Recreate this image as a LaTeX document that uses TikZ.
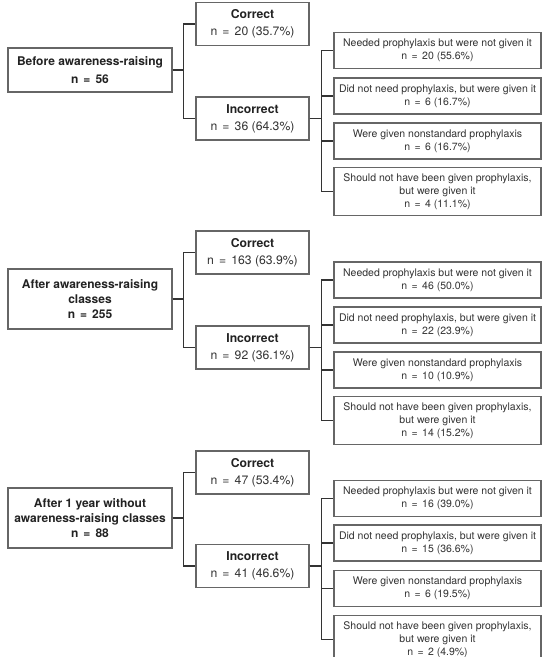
\documentclass[tikz,border=0pt]{standalone}
\usepackage{fontspec}
\setmainfont{TeX Gyre Heros}
\definecolor{boxline}{HTML}{666666}
\definecolor{conn}{HTML}{333333}
\definecolor{txt}{HTML}{333333}
\definecolor{txtb}{HTML}{222222}
\newcommand{\myeq}{\hspace{0.42em}=\hspace{0.42em}}
\begin{document}
\begin{tikzpicture}[x=1pt,y=-1pt,
  box/.style={draw=boxline, line width=1.1pt, rectangle, inner sep=0pt, align=center, text=txt},
  lbox/.style={box, minimum width=164pt, text=txtb, font=\fontsize{12}{15}\selectfont\bfseries},
  mbox/.style={box, minimum width=113pt, minimum height=43pt, font=\fontsize{12.2}{17}\selectfont},
  rbox/.style={box, minimum width=207pt, minimum height=36pt, font=\fontsize{10.5}{13.3}\selectfont},
  rboxd/.style={rbox, minimum height=48pt},
  conn/.style={draw=conn, line width=1.6pt}
]
\useasboundingbox (0,0) rectangle (547,657);
\clip (0,0) rectangle (547,657);
\fill[white] (0,0) rectangle (547,657);

% ---------- Section 1 ----------
\node[lbox, minimum height=44pt, font=\fontsize{12}{18}\selectfont\bfseries] (L1) at (90,70) {Before awareness-raising\\n\myeq 56};
\node[mbox] (C1) at (252.5,24) {\textbf{\textcolor{txtb}{Correct}}\\n\myeq 20 (35.7\%)};
\node[mbox] (I1) at (252.5,118.5) {\textbf{\textcolor{txtb}{Incorrect}}\\n\myeq 36 (64.3\%)};
\node[rbox] (R1a) at (437.5,50.5) {Needed prophylaxis but were not given it\\n\myeq 20 (55.6\%)};
\node[rbox] (R1b) at (437.5,96) {Did not need prophylaxis, but were given it\\n\myeq 6 (16.7\%)};
\node[rbox] (R1c) at (437.5,141) {Were given nonstandard prophylaxis\\n\myeq 6 (16.7\%)};
\node[rboxd] (R1d) at (437.5,191.5) {Should not have been given prophylaxis,\\but were given it\\n\myeq 4 (11.1\%)};
\draw[conn] (L1.east) -- ++(11,0) |- (C1.west);
\draw[conn] (L1.east) -- ++(11,0) |- (I1.west);
\foreach \r in {R1a,R1b,R1c,R1d}{\draw[conn] (I1.east) -- ++(12,0) |- (\r.west);}

% ---------- Section 2 ----------
\node[lbox, minimum height=60pt] (L2) at (90,299) {After awareness-raising\\classes\\n\myeq 255};
\node[mbox] (C2) at (252.5,252.5) {\textbf{\textcolor{txtb}{Correct}}\\n\myeq 163 (63.9\%)};
\node[mbox] (I2) at (252.5,347.5) {\textbf{\textcolor{txtb}{Incorrect}}\\n\myeq 92 (36.1\%)};
\node[rbox] (R2a) at (437.5,280) {Needed prophylaxis but were not given it\\n\myeq 46 (50.0\%)};
\node[rbox] (R2b) at (437.5,325) {Did not need prophylaxis, but were given it\\n\myeq 22 (23.9\%)};
\node[rbox] (R2c) at (437.5,370) {Were given nonstandard prophylaxis\\n\myeq 10 (10.9\%)};
\node[rboxd] (R2d) at (437.5,420.5) {Should not have been given prophylaxis,\\but were given it\\n\myeq 14 (15.2\%)};
\draw[conn] (L2.east) -- ++(11,0) |- (C2.west);
\draw[conn] (L2.east) -- ++(11,0) |- (I2.west);
\foreach \r in {R2a,R2b,R2c,R2d}{\draw[conn] (I2.east) -- ++(12,0) |- (\r.west);}

% ---------- Section 3 ----------
\node[lbox, minimum height=60pt] (L3) at (90,518) {After 1 year without\\awareness-raising classes\\n\myeq 88};
\node[mbox] (C3) at (252.5,472.5) {\textbf{\textcolor{txtb}{Correct}}\\n\myeq 47 (53.4\%)};
\node[mbox] (I3) at (252.5,566) {\textbf{\textcolor{txtb}{Incorrect}}\\n\myeq 41 (46.6\%)};
\node[rbox] (R3a) at (437.5,498.5) {Needed prophylaxis but were not given it\\n\myeq 16 (39.0\%)};
\node[rbox] (R3b) at (437.5,543) {Did not need prophylaxis, but were given it\\n\myeq 15 (36.6\%)};
\node[rbox] (R3c) at (437.5,588.5) {Were given nonstandard prophylaxis\\n\myeq 6 (19.5\%)};
\node[rboxd] (R3d) at (437.5,639.5) {Should not have been given prophylaxis,\\but were given it\\n\myeq 2 (4.9\%)};
\draw[conn] (L3.east) -- ++(11,0) |- (C3.west);
\draw[conn] (L3.east) -- ++(11,0) |- (I3.west);
\foreach \r in {R3a,R3b,R3c,R3d}{\draw[conn] (I3.east) -- ++(12,0) |- (\r.west);}
\end{tikzpicture}
\end{document}
